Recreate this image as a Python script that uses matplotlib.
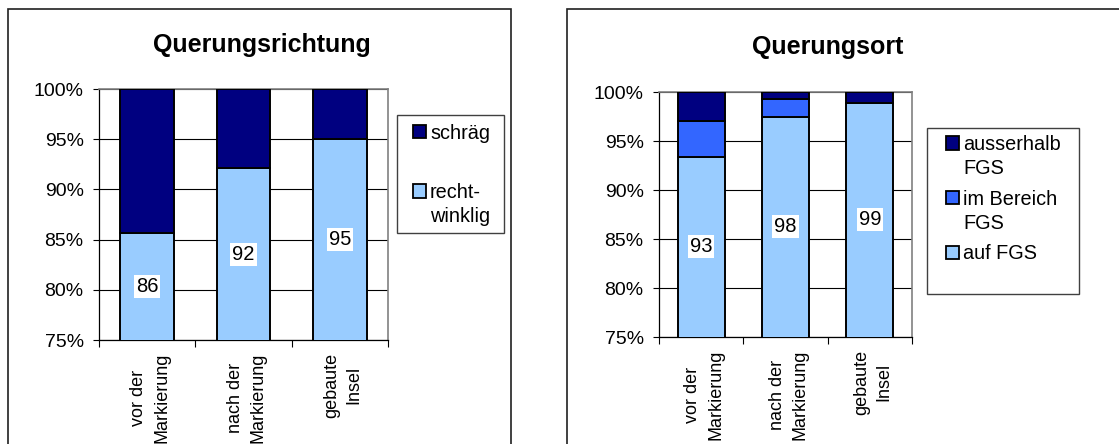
import matplotlib
matplotlib.use('Agg')

import numpy as np
import matplotlib.pyplot as plt
from matplotlib.patches import Rectangle
from matplotlib.transforms import ScaledTranslation

plt.rcParams['font.family'] = ['Liberation Sans', 'DejaVu Sans']

# data
categories = ['vor der\nMarkierung', 'nach der\nMarkierung', 'gebaute\nInsel']

richtung_labels = ['recht-\nwinklig', 'schräg']
richtung_values = [
    [85.7, 92.1, 95.0],   # recht-winklig
    [14.3, 7.9, 5.0],     # schräg
]
richtung_colors = ['#99ccff', '#000080']

ort_labels = ['auf FGS', 'im Bereich\nFGS', 'ausserhalb\nFGS']
ort_values = [
    [93.4, 97.5, 98.9],   # auf FGS
    [3.6, 1.8, 0.0],      # im Bereich FGS
    [3.0, 0.7, 1.1],      # ausserhalb FGS
]
ort_colors = ['#99ccff', '#3366ff', '#000080']

yticks = [75, 80, 85, 90, 95, 100]

W, H = 1119, 444
fig = plt.figure(figsize=(W / 100, H / 100), dpi=100)


def fx(px):
    return px / W


def fy(py):
    return 1 - py / H


def rect_px(x0, y0, x1, y1, **kw):
    r = Rectangle((fx(x0), fy(y1)), fx(x1) - fx(x0), fy(y0) - fy(y1),
                  transform=fig.transFigure, fill=False, **kw)
    fig.add_artist(r)


def panel(box, title, title_xy, labels, values, colors, leg_box, leg_x, leg_y):
    x0, y0, x1, y1 = box
    ax = fig.add_axes([fx(x0), fy(y1), fx(x1) - fx(x0), fy(y0) - fy(y1)])
    x = np.arange(len(categories))
    bottom = np.zeros(len(categories))
    for vals, col in zip(values, colors):
        ax.bar(x, vals, 0.56, bottom=bottom, color=col, edgecolor='black',
               linewidth=1.4, zorder=3)
        bottom += np.array(vals)

    # value labels in the bottom segment
    for xi, v in zip(x, values[0]):
        ax.text(xi, (75 + v) / 2, f'{v:.0f}', ha='center', va='center',
                fontsize=14.5, zorder=5,
                bbox=dict(facecolor='white', edgecolor='none', pad=1.5))

    ax.set_xlim(-0.5, len(categories) - 0.5)
    ax.set_ylim(75, 100)
    ax.set_yticks(yticks)
    ax.set_yticklabels([f'{t}%' for t in yticks], fontsize=14)
    ax.yaxis.grid(True, color='black', linewidth=0.8, zorder=0)
    ax.set_axisbelow(True)
    ax.tick_params(axis='y', direction='out', length=4.5, width=0.8, pad=6.5)

    ax.set_xticks(np.arange(len(categories) + 1) - 0.5)
    ax.set_xticklabels([])
    ax.set_xticks(x, minor=True)
    ax.set_xticklabels(categories, minor=True, rotation=90, fontsize=13,
                       va='top', ha='center', multialignment='center',
                       linespacing=1.45)
    ax.tick_params(axis='x', which='major', direction='out', length=5, width=0.8)
    ax.tick_params(axis='x', which='minor', length=0, pad=9)
    # nudge category labels slightly right, like the original
    shift = ScaledTranslation(3 / 100, 0, fig.dpi_scale_trans)
    for lab in ax.get_xticklabels(minor=True):
        lab.set_transform(lab.get_transform() + shift)

    for s in ['top', 'right']:
        ax.spines[s].set_color('#808080')
        ax.spines[s].set_linewidth(1.2)
    for s in ['left', 'bottom']:
        ax.spines[s].set_color('black')
        ax.spines[s].set_linewidth(0.9)

    fig.text(fx(title_xy[0]), fy(title_xy[1]), title, ha='center', va='center',
             fontsize=18, fontweight='bold')

    # legend (top entry first), one text line at a time
    rect_px(*leg_box, edgecolor='#404040', linewidth=1.0)
    for lab, col, ly in zip(labels[::-1], colors[::-1], leg_y):
        hs = 13
        r = Rectangle((fx(leg_x), fy(ly + hs / 2)), fx(hs), hs / H,
                      transform=fig.transFigure, facecolor=col,
                      edgecolor='black', linewidth=1.3)
        fig.add_artist(r)
        for i, line in enumerate(lab.split('\n')):
            fig.text(fx(leg_x + 17), fy(ly + 7 + 24 * i), line, ha='left',
                     va='baseline', fontsize=14.3)
    return ax


# outer chart frames (cut at bottom edge of image)
rect_px(8, 9, 511, 470, edgecolor='#202020', linewidth=1.2)
rect_px(567, 9, 1140, 470, edgecolor='#202020', linewidth=1.2)

panel((99, 89, 388, 340), 'Querungsrichtung', (262, 45),
      richtung_labels, richtung_values, richtung_colors,
      (397, 115, 504, 233), 413, [132, 191])

panel((659, 92, 912, 337), 'Querungsort', (828, 47),
      ort_labels, ort_values, ort_colors,
      (927, 128, 1079, 294), 946, [143, 198, 252])

fig.savefig('out.png', dpi=100)
